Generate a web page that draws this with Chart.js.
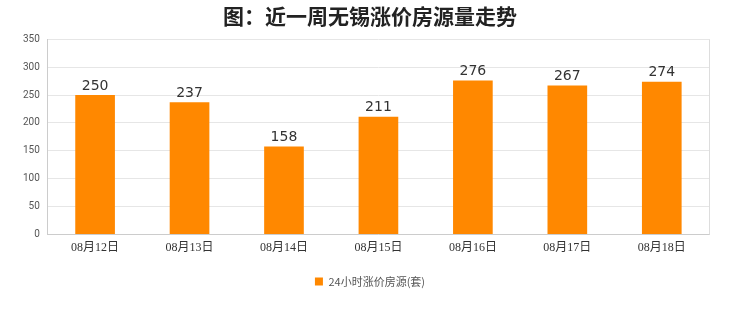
<!DOCTYPE html>
<html><head><meta charset="utf-8">
<script src="https://cdn.jsdelivr.net/npm/chart.js@4/dist/chart.umd.min.js"></script>
<style>html,body{margin:0;padding:0;background:#fff}#wrap{width:740px;height:312px}</style>
</head><body><div id="wrap"><canvas id="c" width="740" height="312"></canvas></div>
<script>
const categories = ["08月12日","08月13日","08月14日","08月15日","08月16日","08月17日","08月18日"];
const seriesName = "24小时涨价房源(套)";
const values = [250,237,158,211,276,267,274];
const titleText = "图：近一周无锡涨价房源量走势";

const labelPlugin = {
  id: 'vals',
  afterDatasetsDraw(chart) {
    const ctx = chart.ctx;
    const meta = chart.getDatasetMeta(0);
    const a = chart.chartArea;
    ctx.save();
    ctx.strokeStyle = '#ddd';
    ctx.lineWidth = 1;
    ctx.beginPath();
    ctx.moveTo(Math.round(a.right) + 0.5, a.top);
    ctx.lineTo(Math.round(a.right) + 0.5, a.bottom);
    ctx.stroke();
    ctx.font = '14px "DejaVu Sans", sans-serif';
    ctx.fillStyle = '#333';
    ctx.textAlign = 'center';
    ctx.textBaseline = 'bottom';
    meta.data.forEach((b, i) => {
      ctx.fillText(String(values[i]), b.x, b.y - 2);
    });
    ctx.restore();
  }
};

new Chart(document.getElementById('c'), {
  type: 'bar',
  data: {
    labels: categories,
    datasets: [{
      label: seriesName,
      data: values,
      backgroundColor: '#ff8800',
      borderWidth: 0,
      categoryPercentage: 1,
      barPercentage: 0.42
    }]
  },
  options: {
    responsive: false,
    animation: false,
    layout: { padding: { left: 15, right: 15, top: 0, bottom: 15 } },
    plugins: {
      title: {
        display: true, text: titleText, color: '#222',
        font: { size: 21, weight: 'bold', family: '"Noto Sans CJK SC", sans-serif' },
        padding: { top: 3, bottom: 11 }
      },
      legend: {
        position: 'bottom',
        labels: {
          boxWidth: 8, boxHeight: 8, color: '#555', padding: 15,
          font: { size: 11, family: '"Noto Sans CJK SC", serif' }
        }
      },
      tooltip: { enabled: false }
    },
    scales: {
      x: {
        grid: { display: false, drawTicks: false },
        border: { color: '#ccc' },
        ticks: { color: '#333', padding: 6, font: { size: 12, family: '"Liberation Serif", "Noto Sans CJK SC", serif' } }
      },
      y: {
        min: 0, max: 350,
        ticks: { stepSize: 50, color: '#555', padding: 8, font: { size: 10, family: 'Roboto, sans-serif' } },
        grid: { color: '#e6e6e6', drawTicks: false },
        border: { color: '#ccc' }
      },
      yRight: {
        position: 'right', display: true, min: 0, max: 350,
        afterFit(scale) { scale.width = 16; },
        ticks: { display: false },
        grid: { display: false, drawTicks: false },
        border: { display: false }
      }
    }
  },
  plugins: [labelPlugin]
});
</script></body></html>
